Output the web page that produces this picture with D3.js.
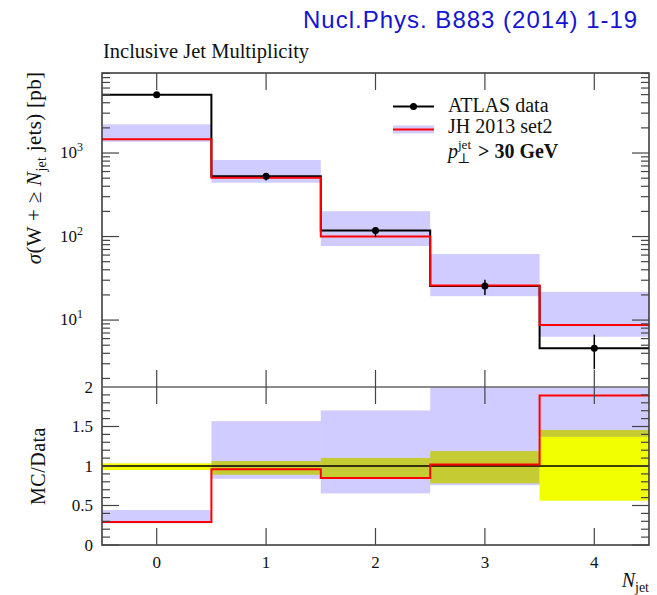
<!DOCTYPE html>
<html>
<head>
<meta charset="utf-8">
<script src="https://cdn.jsdelivr.net/npm/d3@7"></script>
<style>
  html, body { margin: 0; padding: 0; background: #fff; }
  svg text { font-family: "Liberation Serif", "DejaVu Serif", serif; fill: #111; }
</style>
</head>
<body>
<svg id="chart" width="657" height="595"></svg>
<script>
// W + jets inclusive jet multiplicity, ATLAS data vs JH 2013 set2
const nJet = [0, 1, 2, 3, 4];
const xTickLabels = ["0", "1", "2", "3", "4"];

const dataXsec  = [4990, 526, 118, 25.5, 4.6];
const dataErrLo = [4740, 468, 98.5, 19.9, 2.58];
const dataErrHi = [5160, 559, 130, 30.3, 6.7];

const mcXsec  = [1460, 505, 100, 26.0, 8.7];
const mcBandLo = [1366, 441, 77, 19.3, 6.3];
const mcBandHi = [2208, 825, 201, 61.9, 21.8];

const mainMajorTicks = [10, 100, 1000];
const mainMajorExp = ["1", "2", "3"];
const ratioMajorTicks = [0, 0.5, 1, 1.5, 2];
const ratioTickLabels = ["0", "0.5", "1", "1.5", "2"];

// layout
const L = 102, R = 649, T = 73, D = 387, B = 545;
const majorLen = 17, minorLen = 8;
const tickColor = "#444", frameColor = "#333";
const bandFill = "rgb(20,0,255)", bandOpacity = 0.2;
const yellow = "#f2ff00";

const svg = d3.select("#chart");

const x = d3.scaleLinear().domain([-0.5, 4.5]).range([L, R]);
const yMain = d3.scaleLog().domain([1.58, 9080]).range([D, T]);
const yRatio = d3.scaleLinear().domain([0, 2]).range([B, D]);

const defs = svg.append("defs");
defs.append("clipPath").attr("id", "clipMain")
  .append("rect").attr("x", L).attr("y", T).attr("width", R - L).attr("height", D - T);
defs.append("clipPath").attr("id", "clipRatio")
  .append("rect").attr("x", L).attr("y", D).attr("width", R - L).attr("height", B - D);

// histogram step path from per-bin values
function stepPoints(vals) {
  const pts = vals.map((v, i) => [nJet[i] - 0.5, v]);
  pts.push([nJet[nJet.length - 1] + 0.5, vals[vals.length - 1]]);
  return pts;
}

// ---------- main panel ----------
const gMain = svg.append("g").attr("clip-path", "url(#clipMain)");

gMain.selectAll("rect.band").data(nJet).join("rect")
  .attr("x", i => x(i - 0.5)).attr("width", i => x(i + 0.5) - x(i - 0.5))
  .attr("y", i => yMain(mcBandHi[i]))
  .attr("height", i => yMain(mcBandLo[i]) - yMain(mcBandHi[i]))
  .attr("fill", bandFill).attr("fill-opacity", bandOpacity);

const lineMain = d3.line().x(d => x(d[0])).y(d => yMain(d[1])).curve(d3.curveStepAfter);

gMain.append("path").attr("d", lineMain(stepPoints(dataXsec)))
  .attr("fill", "none").attr("stroke", "#000").attr("stroke-width", 2);
gMain.append("path").attr("d", lineMain(stepPoints(mcXsec)))
  .attr("fill", "none").attr("stroke", "#ff0000").attr("stroke-width", 2);

gMain.selectAll("line.err").data(nJet).join("line")
  .attr("x1", i => x(i)).attr("x2", i => x(i))
  .attr("y1", i => yMain(dataErrLo[i])).attr("y2", i => yMain(dataErrHi[i]))
  .attr("stroke", "#000").attr("stroke-width", 1.5);
gMain.selectAll("circle.pt").data(nJet).join("circle")
  .attr("cx", i => x(i)).attr("cy", i => yMain(dataXsec[i])).attr("r", 3.5)
  .attr("fill", "#000");

// ---------- ratio panel ----------
const gRatio = svg.append("g").attr("clip-path", "url(#clipRatio)");

gRatio.selectAll("rect.yel").data(nJet).join("rect")
  .attr("x", i => x(i - 0.5)).attr("width", i => x(i + 0.5) - x(i - 0.5))
  .attr("y", i => yRatio(dataErrHi[i] / dataXsec[i]))
  .attr("height", i => yRatio(dataErrLo[i] / dataXsec[i]) - yRatio(dataErrHi[i] / dataXsec[i]))
  .attr("fill", yellow);

gRatio.selectAll("rect.mcb").data(nJet).join("rect")
  .attr("x", i => x(i - 0.5)).attr("width", i => x(i + 0.5) - x(i - 0.5))
  .attr("y", i => yRatio(mcBandHi[i] / dataXsec[i]))
  .attr("height", i => yRatio(mcBandLo[i] / dataXsec[i]) - yRatio(mcBandHi[i] / dataXsec[i]))
  .attr("fill", bandFill).attr("fill-opacity", bandOpacity);

gRatio.append("line").attr("x1", L).attr("x2", R)
  .attr("y1", yRatio(1)).attr("y2", yRatio(1))
  .attr("stroke", "#000").attr("stroke-width", 1.3);

const lineRatio = d3.line().x(d => x(d[0])).y(d => yRatio(d[1])).curve(d3.curveStepAfter);
gRatio.append("path").attr("d", lineRatio(stepPoints(mcXsec.map((v, i) => v / dataXsec[i]))))
  .attr("fill", "none").attr("stroke", "#ff0000").attr("stroke-width", 2);

// ---------- frames ----------
const frame = svg.append("g").attr("stroke", frameColor).attr("stroke-width", 1.5).attr("fill", "none");
frame.append("path").attr("d", `M${L},${D}V${T}H${R}V${D}`);
frame.append("path").attr("d", `M${L},${D}V${B}H${R}V${D}`);
frame.append("line").attr("x1", L).attr("x2", R).attr("y1", D).attr("y2", D).attr("stroke", "#666");

// ---------- ticks ----------
const ticks = svg.append("g").attr("stroke", tickColor).attr("stroke-width", 1.2);

// x ticks on all four horizontal edges
nJet.forEach(i => {
  const xi = x(i);
  [[T, T + majorLen], [D - majorLen, D], [D, D + majorLen], [B - majorLen, B]].forEach(([a, b]) => {
    ticks.append("line").attr("x1", xi).attr("x2", xi).attr("y1", a).attr("y2", b);
  });
});

// log ticks for main panel
const logTicks = [];
for (let e = 0; e <= 3; e++) {
  for (let m = 1; m <= 9; m++) {
    const v = m * Math.pow(10, e);
    if (v >= yMain.domain()[0] && v <= yMain.domain()[1]) logTicks.push({ v, major: m === 1 });
  }
}
logTicks.forEach(t => {
  const yy = yMain(t.v), len = t.major ? majorLen : minorLen;
  ticks.append("line").attr("x1", L).attr("x2", L + len).attr("y1", yy).attr("y2", yy);
  ticks.append("line").attr("x1", R - len).attr("x2", R).attr("y1", yy).attr("y2", yy);
});

// ratio panel ticks every 0.1
d3.range(0, 20).forEach(k => {
  const yy = yRatio(k / 10);
  const len = (k % 5 === 0) ? majorLen : minorLen;
  ticks.append("line").attr("x1", L).attr("x2", L + len).attr("y1", yy).attr("y2", yy);
  ticks.append("line").attr("x1", R - len).attr("x2", R).attr("y1", yy).attr("y2", yy);
});

// ---------- tick labels ----------
const mainLab = svg.append("g").attr("font-size", 17).attr("text-anchor", "end");
mainMajorTicks.forEach((v, k) => {
  const t = mainLab.append("text").attr("x", 83).attr("y", yMain(v) + 5);
  t.append("tspan").text("10");
  t.append("tspan").attr("font-size", 12).attr("dy", -7).text(mainMajorExp[k]);
});

const ratioLab = svg.append("g").attr("font-size", 17).attr("text-anchor", "end");
ratioMajorTicks.forEach((v, k) => {
  ratioLab.append("text").attr("x", 93).attr("y", yRatio(v) + 5.5).text(ratioTickLabels[k]);
});

const xLab = svg.append("g").attr("font-size", 17).attr("text-anchor", "middle");
nJet.forEach((v, k) => {
  xLab.append("text").attr("x", x(v)).attr("y", 568).text(xTickLabels[k]);
});

// ---------- axis titles ----------
const xt = svg.append("text").attr("x", R).attr("y", 587).attr("text-anchor", "end").attr("font-size", 20);
xt.append("tspan").attr("font-style", "italic").text("N");
xt.append("tspan").attr("font-size", 14).attr("dy", 5).text("jet");

const yt = svg.append("text").attr("transform", "translate(41,168) rotate(-90)")
  .attr("text-anchor", "middle").attr("font-size", 21).attr("letter-spacing", 0.3);
yt.append("tspan").attr("font-style", "italic").text("σ");
yt.append("tspan").text("(W + ≥ ");
yt.append("tspan").attr("font-style", "italic").text("N");
yt.append("tspan").attr("font-size", 14).attr("dy", 5).text("jet");
yt.append("tspan").attr("dy", -5).text(" jets) [pb]");

svg.append("text").attr("transform", "translate(45,466) rotate(-90)")
  .attr("text-anchor", "middle").attr("font-size", 20).attr("letter-spacing", 0.5).text("MC/Data");

// ---------- titles ----------
svg.append("text").attr("x", 103).attr("y", 58).attr("font-size", 20.5)
  .text("Inclusive Jet Multiplicity");

svg.append("text").attr("x", 303).attr("y", 28)
  .attr("font-size", 24).attr("letter-spacing", 1)
  .style("font-family", "'Liberation Sans', Arial, sans-serif")
  .style("fill", "#1414d2").text("Nucl.Phys. B883 (2014) 1-19");

// ---------- legend ----------
const lg = svg.append("g");
lg.append("line").attr("x1", 393).attr("x2", 434).attr("y1", 106.5).attr("y2", 106.5)
  .attr("stroke", "#000").attr("stroke-width", 2);
lg.append("circle").attr("cx", 413.5).attr("cy", 106.5).attr("r", 3.5).attr("fill", "#000");
lg.append("text").attr("x", 448).attr("y", 112).attr("font-size", 20).text("ATLAS data");

lg.append("rect").attr("x", 393).attr("y", 125.5).attr("width", 41).attr("height", 8)
  .attr("fill", bandFill).attr("fill-opacity", bandOpacity);
lg.append("line").attr("x1", 393).attr("x2", 434).attr("y1", 129.5).attr("y2", 129.5)
  .attr("stroke", "#ff0000").attr("stroke-width", 2);
lg.append("text").attr("x", 448).attr("y", 133).attr("font-size", 20).text("JH 2013 set2");

const pt = lg.append("text").attr("x", 448).attr("y", 157.5).attr("font-size", 20);
pt.append("tspan").attr("font-style", "italic").text("p");
pt.append("tspan").attr("font-size", 13).attr("dy", -9).text("jet");
pt.append("tspan").attr("x", 457).attr("font-size", 14).attr("dy", 14).text("⊥");
pt.append("tspan").attr("x", 478).attr("dy", -5).attr("font-weight", "bold").text("> 30 GeV");
</script>
</body>
</html>
